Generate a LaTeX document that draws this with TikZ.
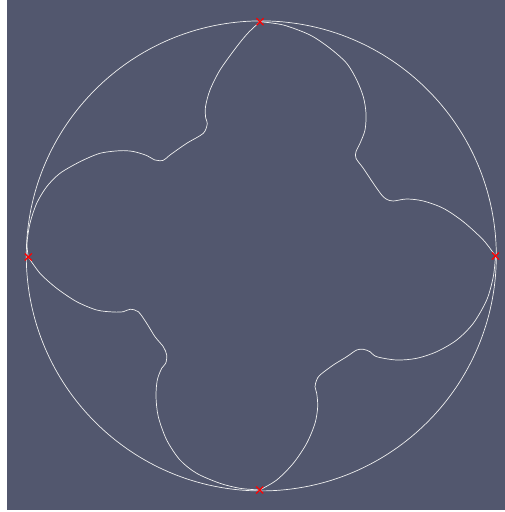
\documentclass[tikz,border=0pt]{standalone}
\begin{document}
\begin{tikzpicture}[x=1pt,y=-1pt,
  profile/.style={draw=white!88!gray,line width=0.7pt,line join=round},
  housing/.style={draw=white!88!gray,line width=0.7pt},
  crossmark/.style={draw=red,line width=1.3pt}]
\definecolor{pvbg}{RGB}{82,87,110}
\useasboundingbox (0,0) rectangle (505,512);
\fill[white] (0,0) rectangle (505,512);
\fill[pvbg] (7,0) rectangle (505,510);
% housing circle
\draw[housing] (261.3,255.9) circle[radius=235];
% rotor profile, four segments between cusps
\draw[profile] plot[smooth,tension=0.5] coordinates {
 (260,21.7) (248,33) (236.7,46.7) (220,70) (210,90) (205.5,106.7) (205.7,118)
 (207.3,123.5) (203.3,133.3) (186.7,143.3) (170,155) (163.3,160.3) (155,160)
 (146.7,155.5) (133.3,151.5) (120,150.7) (100,153.3) (80,161.7) (60,173.3)
 (46.7,186.7) (36.7,203.3) (30,223.3) (27,243.3) (28.3,257)};
\draw[profile] plot[smooth,tension=0.5] coordinates {
 (260,21.7) (283.3,25) (310,35) (330,48.3) (346.7,63.3) (356.7,80) (363.3,96.7)
 (366,113.3) (365,130) (360,143.3) (356,151.7) (356,158.3) (363.3,168.3)
 (373.3,183.3) (381.7,195) (386.7,199.3) (393.3,201) (406.7,199) (423.3,201)
 (443.3,208.3) (463.3,221.7) (483.3,240) (495.5,256)};
\draw[profile] plot[smooth,tension=0.5] coordinates {
 (495.5,256) (493.3,276.7) (486.7,300) (473.3,323.3) (456.7,340) (436.7,351.7)
 (416.7,358.3) (396.7,360) (376.7,356.7) (370,351.7) (363.3,349.3) (356.7,350)
 (346.7,356.7) (333.3,365) (320,375) (316.7,380) (315,386.7) (316.7,393.3)
 (317.7,406.7) (315,423.3) (306.7,443.3) (293.3,463.3) (276.7,480) (259.7,490)};
\draw[profile] plot[smooth,tension=0.5] coordinates {
 (28.3,257) (40,273.3) (56.7,288.3) (76.7,301.7) (96.7,310) (113.3,312)
 (123.3,311.7) (130,309.3) (138.3,311.7) (146.7,323.3) (155,336.7) (163.3,346.7)
 (166.7,355) (165.7,363.3) (161.7,368.3) (157.3,380) (156,396.7) (158.3,416.7)
 (166.7,440) (180,460) (196.7,473.3) (220,483.3) (240,488.3) (259.7,490)};
% cusp markers
\foreach \px/\py in {260/21.7, 28.3/257, 495.5/256, 259.7/490}{
  \draw[crossmark] (\px-3.5,\py-3.5) -- (\px+3.5,\py+3.5)
                   (\px-3.5,\py+3.5) -- (\px+3.5,\py-3.5);
}
\end{tikzpicture}
\end{document}
